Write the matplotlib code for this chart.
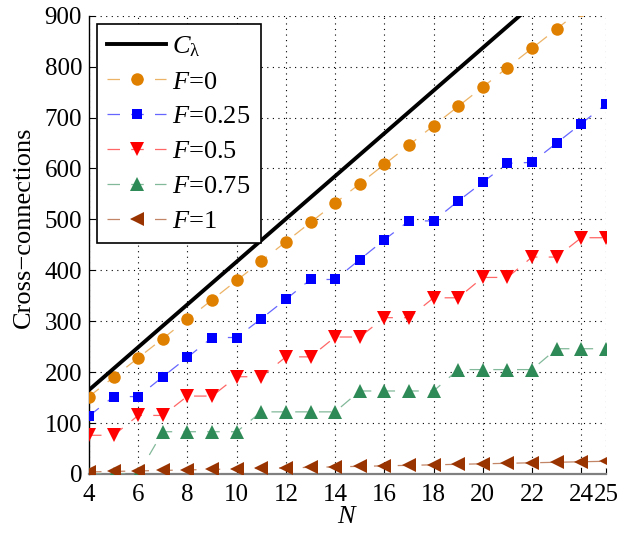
import matplotlib
matplotlib.use("Agg")
import matplotlib.pyplot as plt
from matplotlib.colors import to_rgb
from matplotlib.ticker import MultipleLocator

plt.rcParams["font.family"] = ["Liberation Serif", "DejaVu Serif"]
plt.rcParams["mathtext.fontset"] = "custom"
plt.rcParams["mathtext.rm"] = "Liberation Serif"
plt.rcParams["mathtext.it"] = "Liberation Serif:italic"

N = [4, 5, 6, 7, 8, 9, 10, 11, 12, 13, 14, 15, 16, 17, 18, 19, 20, 21, 22, 23, 24, 25]

c_lambda = [165, 207, 249, 291, 333, 375, 417, 459, 501, 543, 585, 627,
            669, 711, 753, 795, 837, 879, 921, 963, 1005, 1047]
f_0 = [152, 190, 228, 266, 304, 342, 380, 418, 456, 494, 532, 570,
       608, 646, 684, 722, 760, 798, 836, 874, 912, 950]
f_025 = [114, 152, 152, 191, 229, 268, 268, 305, 343, 382, 382, 421,
         460, 497, 497, 536, 573, 610, 612, 650, 688, 726]
f_05 = [76, 76, 115, 115, 153, 153, 191, 191, 230, 230, 269, 269,
        307, 307, 346, 346, 386, 386, 426, 426, 464, 464]
f_075 = [0, 0, 0, 83, 83, 83, 83, 122, 122, 122, 122, 163,
         163, 163, 163, 205, 205, 205, 205, 246, 246, 246]
f_1 = [4, 5, 6, 7, 8, 9, 10, 11, 12, 13, 14, 15,
       16, 17, 18, 19, 20, 21, 22, 23, 24, 25]

series = [
    (f_0, "$F$=0", "#e08000", "o", 9),
    (f_025, "$F$=0.25", "#0000ff", "s", 7.5),
    (f_05, "$F$=0.5", "#ff0000", "v", 9.5),
    (f_075, "$F$=0.75", "#2e8b57", "^", 9.5),
    (f_1, "$F$=1", "#993300", "<", 9.5),
]
x_ticks = [4, 6, 8, 10, 12, 14, 16, 18, 20, 22, 24, 25]


def lighten(col, amt=0.4):
    r, g, b = to_rgb(col)
    return (r + (1 - r) * amt, g + (1 - g) * amt, b + (1 - b) * amt)


fig = plt.figure(figsize=(6.19, 5.36), dpi=100)
ax = fig.add_axes([0.1438, 0.1157, 0.835, 0.855])

ax.plot(N, c_lambda, color="black", lw=2.8, label=r"$C_{\mathrm{\lambda}}$", zorder=4)
for vals, lab, col, mk, ms in series:
    ax.plot(N, vals, color=lighten(col), lw=0.9, dashes=(10, 9),
            marker=mk, ms=ms, mfc=col, mec=col, mew=0, label=lab, zorder=3)

ax.set_xlim(4, 25)
ax.set_ylim(0, 900)
ax.set_xticks(x_ticks)
ax.yaxis.set_major_locator(MultipleLocator(100))
ax.tick_params(direction="in", labelsize=18, length=4, width=0.8, pad=5)
ax.tick_params(axis="x", pad=7)
ax.grid(True, color="black", ls=(0, (1, 4)), lw=0.8)
ax.set_axisbelow(True)

for s in ("top", "right"):
    ax.spines[s].set_visible(False)
ax.spines["left"].set_linewidth(1.0)
ax.spines["bottom"].set_color("#808080")
ax.spines["bottom"].set_linewidth(1.6)

ax.set_xlabel("$N$", fontsize=19, labelpad=0)
ax.set_ylabel("Cross\u2212connections", fontsize=19)
ax.yaxis.set_label_coords(-0.104, 0.539)

leg = ax.legend(loc="upper left", fontsize=19, handlelength=2.2,
                handletextpad=0.25, labelspacing=0.43, borderpad=0.4,
                borderaxespad=0.3, fancybox=False, framealpha=1,
                edgecolor="black")
leg.get_frame().set_linewidth(1.2)

fig.savefig("out.png", dpi=100)
